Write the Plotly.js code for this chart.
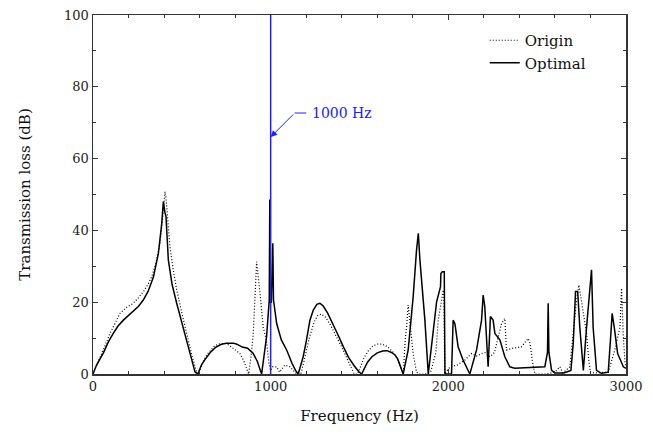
<!DOCTYPE html>
<html>
<head>
<meta charset="utf-8">
<script src="https://cdn.plot.ly/plotly-3.0.1.min.js"></script>
<style>html,body{margin:0;padding:0;background:#fff;}#chart{width:653px;height:437px;}</style>
</head>
<body>
<div id="chart"></div>
<script>
// Origin (dotted)
const originFreq = [0,20,40,70,96,125,152,190,227,255,283,310,330,355,377,395,405,411,418,433,450,471,500,527,555,583,595,
  605,620,640,660,680,700,720,740,760,780,800,827,850,865,876,890,902,915,921,940,958,976,990,1000,1010,1034,1050,1080,1109,1140,
  1170,1185,1200,1220,1245,1265,1285,1310,1340,1370,1400,1430,1455,1470,
  1490,1505,1525,1550,1575,1605,1630,1660,1690,1710,1730,1746,
  1758,1765,1774,1785,1802,1821,1840,1870,1900,1930,1943,1960,1971,1975,1977,1980,2010,2050,2093,2131,2160,2187,2210,2234,2260,2299,2318,2327,2355,2412,2449,2460,2472,2487,
  2550,2600,2628,2645,2684,2703,2722,2735,2750,2765,2778,2790,2800,2820,2900,2937,2966,2975,2985,2995,3000];
const originTL = [0,2.5,4.5,8.2,11.3,14.4,16.9,18.6,19.7,21.2,22.9,25,27,31,36.4,45,50.8,49,44.7,35.5,29.5,23.5,17,11.3,5.5,0.5,0,
  1.5,3.5,5.3,6.6,7.6,8.2,8.5,8.5,8.2,7.5,6.7,5.7,3.5,1.5,0,5,11.3,25,31.3,22.5,13,9.5,3,1,2,2,0.5,2.5,2,0.3,
  0,3,6.5,10.5,14.5,16.3,16.7,15.8,13.3,10.5,7.5,4.3,1.8,0,
  0,2,4.5,6.5,7.8,8.4,8.3,7.5,6,4.5,2.2,0,
  10,13,19.2,14,5.7,0.5,0,0,0.5,6,15,20,23.4,22.5,5,0,2,2.5,3.9,5.7,5,5.7,6,4.8,6,14,15.5,6.7,7.1,7.6,9.9,8.5,3.9,0,
  0,0.5,2,0.3,2,11.3,20.6,24.8,19.7,15,11.3,4,0.5,0.3,0.5,6.7,13,23.9,10,3,2];
// Optimal (solid)
const optimalFreq = [0,20,58,85,114,140,171,200,227,255,283,310,340,368,387,396,405,411,424,445,471,500,527,550,574,590,
  600,610,630,660,690,720,750,790,810,840,870,902,925,940,949,
  977,987,992,995,999,1004,1008,1012,1016,1020,1034,1060,1090,1120,1140,1155,
  1165,1183,1200,1221,1240,1260,1277,1295,1320,1350,1380,1410,1440,1470,1495,1512,
  1525,1545,1570,1600,1630,1655,1680,1700,1715,1730,1746,
  1774,1802,1821,1831,1840,1868,1887,1915,1934,1956,1958,1966,1977,1981,2018,2027,2037,2055,2083,2121,2159,2187,2196,2205,2224,2237,2252,2262,2290,2318,2346,2374,2465,2543,2558,2562,2566,2581,2600,2650,2690,2703,2716,2728,2740,2760,2778,2796,2806,2815,2834,2862,2900,2915,2922,2934,2953,2985,3000];
const optimalTL = [0,2.5,5.8,8.8,11.3,13.3,15,16.3,17.4,18.8,20.6,23,27,33.6,42,48,45,43.8,31.8,25,19.7,14.3,9.5,5,0.6,0,
  1.5,2.5,4,6,7.4,8.2,8.6,8.6,8.3,7.5,7.2,5.7,3.5,1.5,0,
  10.4,19.7,20.6,48.6,20,20,36.4,36.4,20.6,19,14,9.5,6.7,3,1,0,
  1.5,4.8,9,15,17.8,19.4,19.7,19,17,14,10.8,7.5,4.5,2.3,0.7,0,
  1.5,3.3,4.8,5.9,6.4,6.5,6,5.3,4.2,2.2,0,
  6.7,21.5,34.5,39.2,31.8,15,0,12.3,20.1,24.3,28,28.5,28.5,0,0,15,14,7.6,3.9,0,6.7,15,22,18.8,2,16,15,11.3,9.5,4.8,2,1.6,1.8,2,6,19.7,6,1,0.3,0.3,1,8.5,23,23,13,1,13,23.4,29,13,1,0.2,0.5,11.3,16.9,13,5.7,2,1.6];

const markerFreq = 1000;
const xTicks = [0,1000,2000,3000];
const yTicks = [0,20,40,60,80,100];

const serif = 'DejaVu Serif';
const blue = '#2020ff';

const traces = [
  {x: originFreq, y: originTL, name: 'Origin', mode: 'lines', type: 'scatter',
   line: {color: '#000', width: 1.2, dash: '1px,2px'}},
  {x: optimalFreq, y: optimalTL, name: 'Optimal', mode: 'lines', type: 'scatter',
   line: {color: '#000', width: 1.5}}
];

const axisCommon = {
  showline: true, linecolor: '#333', linewidth: 1.5, mirror: 'ticks',
  ticks: 'inside', ticklen: 5, tickcolor: '#333', tickwidth: 1,
  showgrid: false, zeroline: false,
  tickfont: {family: serif, size: 13, color: '#222'}
};

const layout = {
  width: 653, height: 437,
  font: {family: serif, color: '#111', size: 13},
  margin: {l: 93, r: 27, t: 15, b: 63},
  paper_bgcolor: '#fff', plot_bgcolor: '#fff',
  showlegend: true,
  legend: {x: 0.735, y: 0.975, xanchor: 'left', yanchor: 'top', bgcolor: 'rgba(0,0,0,0)',
    font: {family: serif, size: 15, color: '#111'}, tracegroupgap: 0},
  xaxis: Object.assign({}, axisCommon, {
    range: [0, 3000], tickvals: xTicks, ticktext: xTicks.map(String),
    minor: {dtick: 200, tick0: 0, ticks: 'inside', ticklen: 3, tickcolor: '#333'},
    title: {text: 'Frequency (Hz)', font: {family: serif, size: 15, color: '#111'}, standoff: 17}
  }),
  yaxis: Object.assign({}, axisCommon, {
    range: [0, 100], tickvals: yTicks, ticktext: yTicks.map(String),
    minor: {dtick: 10, tick0: 0, ticks: 'inside', ticklen: 3, tickcolor: '#333'},
    title: {text: 'Transmission loss (dB)', font: {family: serif, size: 15, color: '#111'}, standoff: 30}
  }),
  shapes: [
    {type: 'line', xref: 'x', yref: 'paper', x0: markerFreq, x1: markerFreq, y0: 0, y1: 1,
     line: {color: blue, width: 1.5}},
    {type: 'line', xref: 'x', yref: 'y', x0: markerFreq + 135, x1: markerFreq + 200, y0: 72.7, y1: 72.7,
     line: {color: blue, width: 1}}
  ],
  annotations: [
    {x: markerFreq, y: 66, xref: 'x', yref: 'y', axref: 'x', ayref: 'y', ax: markerFreq + 135, ay: 72.7,
     text: '', showarrow: true, arrowhead: 2, arrowsize: 1.3, arrowwidth: 1, arrowcolor: blue},
    {x: markerFreq + 220, y: 72.7, xref: 'x', yref: 'y', xanchor: 'left', yanchor: 'middle',
     text: '1000 Hz', showarrow: false, font: {family: serif, size: 14, color: blue}}
  ]
};

Plotly.newPlot('chart', traces, layout, {displayModeBar: false, staticPlot: true});
</script>
</body>
</html>
